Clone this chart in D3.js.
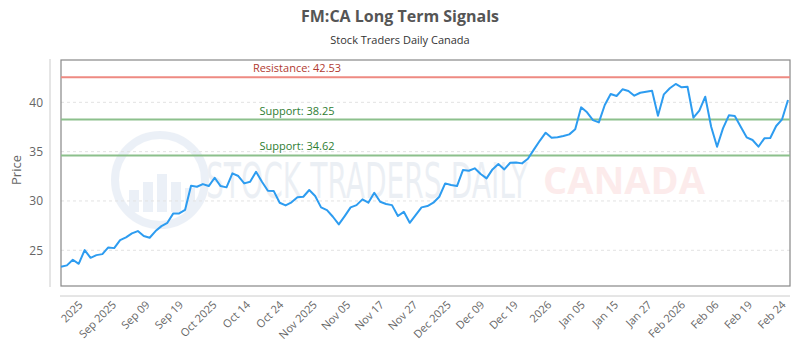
<!DOCTYPE html>
<html>
<head>
<meta charset="utf-8">
<script src="https://cdn.jsdelivr.net/npm/d3@7"></script>
<style>
  body { margin: 0; background: #fff; }
  svg { display: block; font-family: "Open Sans", sans-serif; }
</style>
</head>
<body>
<svg id="chart" width="800" height="350"></svg>
<script>
// closing prices, one per trading day
const prices = [
  23.33, 23.47, 24.04, 23.63, 25.02, 24.24, 24.51, 24.61, 25.29, 25.22,
  26.03, 26.31, 26.71, 26.95, 26.44, 26.27, 26.95, 27.45, 27.79, 28.74,
  28.74, 29.10, 31.54, 31.44, 31.71, 31.51, 32.35, 31.51, 31.38, 32.80,
  32.53, 31.78, 31.95, 32.96, 31.95, 31.04, 31.00, 29.82, 29.55, 29.86,
  30.37, 30.43, 31.11, 30.50, 29.35, 29.08, 28.40, 27.63, 28.47, 29.35,
  29.58, 30.16, 29.82, 30.83, 29.92, 29.69, 29.58, 28.47, 28.90, 27.79,
  28.57, 29.35, 29.48, 29.82, 30.43, 31.78, 31.61, 31.51, 33.13, 33.06,
  33.31, 32.73, 32.29, 33.20, 33.74, 33.20, 33.87, 33.91, 33.81, 34.28,
  35.20, 36.10, 36.92, 36.41, 36.45, 36.58, 36.75, 37.26, 39.49, 38.99,
  38.20, 37.97, 39.73, 40.84, 40.64, 41.32, 41.15, 40.67, 40.97, 41.08,
  41.18, 38.64, 40.81, 41.42, 41.86, 41.52, 41.58, 38.44, 39.15, 40.57,
  37.53, 35.50, 37.36, 38.68, 38.61, 37.53, 36.45, 36.18, 35.50, 36.35,
  36.38, 37.60, 38.28, 40.23
];

const tickLabels = [
  "2025", "Sep 2025", "Sep 09", "Sep 19", "Oct 2025", "Oct 14", "Oct 24",
  "Nov 2025", "Nov 05", "Nov 17", "Nov 27", "Dec 2025", "Dec 09", "Dec 19",
  "2026", "Jan 05", "Jan 15", "Jan 27", "Feb 2026", "Feb 06", "Feb 19", "Feb 24"
];

const yTicks = [25, 30, 35, 40];

const resistance = [42.53];
const supports = [38.25, 34.62];

const svg = d3.select("#chart");

const plot = { left: 61, right: 790, top: 60, bottom: 286 };

const x = d3.scaleLinear()
  .domain([0, prices.length - 1])
  .range([61, 788]);

const y = d3.scaleLinear()
  .domain([21.38, 44.29])
  .range([plot.bottom, plot.top]);

// labels are spread evenly along the bottom
const xLab = d3.scalePoint()
  .domain(tickLabels)
  .range([79, 782]);

// title
svg.append("text")
  .attr("x", 400).attr("y", 22)
  .attr("text-anchor", "middle")
  .attr("font-size", 16).attr("font-weight", "bold")
  .attr("fill", "#555")
  .text("FM:CA Long Term Signals");

svg.append("text")
  .attr("x", 400).attr("y", 44)
  .attr("text-anchor", "middle")
  .attr("font-size", 11)
  .attr("fill", "#333")
  .text("Stock Traders Daily Canada");

// watermark
const wm = svg.append("g").attr("opacity", 0.1);
wm.append("circle")
  .attr("cx", 160).attr("cy", 180).attr("r", 45)
  .attr("fill", "none").attr("stroke", "#4a78b8").attr("stroke-width", 8);
[[134, 22], [148, 30], [162, 38], [176, 30], [190, 24]].forEach(([bx, h]) => {
  wm.append("rect")
    .attr("x", bx - 5).attr("y", 212 - h).attr("width", 10).attr("height", h)
    .attr("fill", "#4a78b8");
});
wm.append("text")
  .attr("x", 206).attr("y", 198)
  .attr("font-size", 50)
  .attr("font-family", "DejaVu Sans Condensed, sans-serif")
  .attr("fill", "#4a6fa0")
  .attr("textLength", 322).attr("lengthAdjust", "spacingAndGlyphs")
  .text("STOCK TRADERS DAILY");
svg.append("text")
  .attr("x", 543).attr("y", 194)
  .attr("font-size", 38).attr("font-weight", "bold")
  .attr("fill", "#f08a8a").attr("opacity", 0.16)
  .text("CANADA");

// grid
svg.append("g")
  .selectAll("line")
  .data(yTicks)
  .join("line")
  .attr("x1", plot.left).attr("x2", plot.right)
  .attr("y1", d => y(d)).attr("y2", d => y(d))
  .attr("stroke", "#e2e2e2").attr("stroke-dasharray", "3,3");

// y axis
const yAxis = svg.append("g")
  .attr("transform", "translate(50,0)")
  .call(d3.axisLeft(y).tickValues(yTicks).tickSize(0).tickPadding(7));
yAxis.select(".domain").attr("stroke", "#ccc");
yAxis.selectAll("text").attr("font-size", 12).attr("fill", "#666")
  .attr("font-family", "Open Sans, sans-serif");
yAxis.select(".domain").attr("d", `M0,${plot.top - 1}V${plot.bottom + 1}`);

svg.append("text")
  .attr("transform", "translate(21,170) rotate(-90)")
  .attr("text-anchor", "middle")
  .attr("font-size", 13).attr("fill", "#666")
  .text("Price");

// x axis line + labels
svg.append("line")
  .attr("x1", plot.left - 1).attr("x2", plot.right)
  .attr("y1", 296).attr("y2", 296)
  .attr("stroke", "#ccc");

svg.append("g")
  .selectAll("text")
  .data(tickLabels)
  .join("text")
  .attr("transform", d => `translate(${xLab(d) - 1},${300}) rotate(-45)`)
  .attr("text-anchor", "end")
  .attr("dy", "0.7em")
  .attr("font-size", 11).attr("fill", "#666")
  .text(d => d);

// plot border
svg.append("rect")
  .attr("x", plot.left).attr("y", plot.top)
  .attr("width", plot.right - plot.left).attr("height", plot.bottom - plot.top)
  .attr("fill", "none").attr("stroke", "#888").attr("stroke-width", 1.2);

// resistance / support lines
function level(vals, color, textColor, name) {
  const g = svg.append("g");
  g.selectAll("line").data(vals).join("line")
    .attr("x1", plot.left).attr("x2", plot.right)
    .attr("y1", d => y(d)).attr("y2", d => y(d))
    .attr("stroke", color).attr("stroke-width", 2);
  g.selectAll("text").data(vals).join("text")
    .attr("x", 297).attr("y", d => y(d) - 5)
    .attr("text-anchor", "middle")
    .attr("font-size", 11).attr("fill", textColor)
    .text(d => `${name}: ${d.toFixed(2)}`);
}
level(resistance, "#ee8a82", "#b03a30", "Resistance");
level(supports, "#8cc08c", "#2e7d32", "Support");

// price line
svg.append("path")
  .datum(prices)
  .attr("fill", "none")
  .attr("stroke", "#2d9cf0")
  .attr("stroke-width", 2)
  .attr("stroke-linejoin", "round")
  .attr("d", d3.line().x((d, i) => x(i)).y(d => y(d)));
</script>
</body>
</html>
